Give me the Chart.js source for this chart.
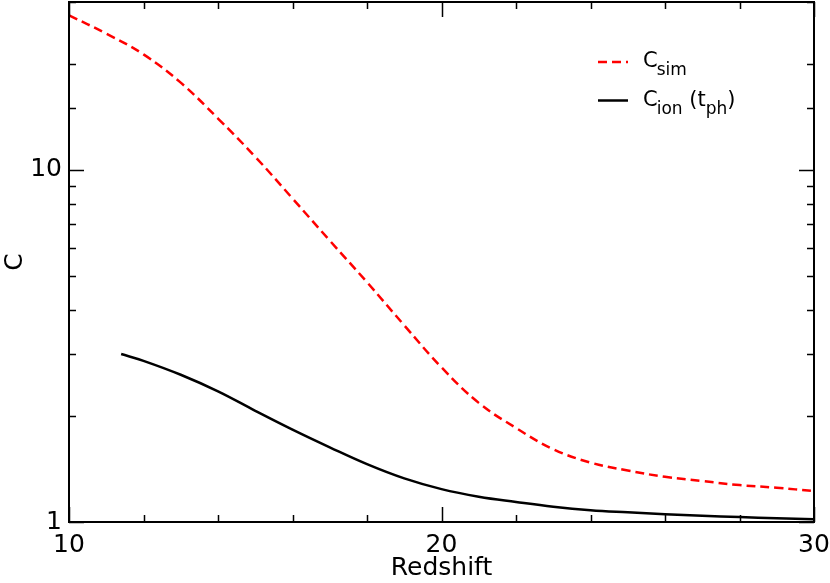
<!DOCTYPE html>
<html>
<head>
<meta charset="utf-8">
<script src="https://cdn.jsdelivr.net/npm/chart.js@4.4.0/dist/chart.umd.min.js"></script>
<style>
  html, body { margin: 0; padding: 0; background: #fff; }
  #wrap { width: 830px; height: 583px; position: relative; }
</style>
</head>
<body>
<div id="wrap"><canvas id="c" width="830" height="583"></canvas></div>
<script>
// ---- data ----
const redshiftSim = [10, 11, 12, 13, 14, 15, 16, 17, 18, 19, 20, 21, 22, 23, 24, 25, 26, 27, 28, 29, 30];
const cSim        = [27.5, 24.4, 21.3, 17.7, 14.0, 10.9, 8.3, 6.3, 4.8, 3.62, 2.75, 2.18, 1.85, 1.61, 1.475, 1.40, 1.344, 1.307, 1.273, 1.251, 1.224];
const redshiftIon = [11.4, 12, 13, 14, 15, 16, 17, 18, 19, 20, 21, 22, 23, 24, 25, 26, 27, 28, 29, 30];
const cIon        = [3.0, 2.87, 2.62, 2.35, 2.07, 1.83, 1.63, 1.46, 1.33, 1.24, 1.18, 1.14, 1.105, 1.08, 1.065, 1.052, 1.042, 1.033, 1.025, 1.018];
const xTickLabels = [10, 20, 30];
const yTickLabels = [1, 10];
// legend text pieces: [text, isSubscript, xShift]
const legendSim = [["C", false, 0], ["sim", true, -1]];
const legendIon = [["C", false, 0], ["ion", true, -1], [" (t", false, 0], ["ph", true, 0], [")", false, 0]];

const FONT = "'DejaVu Sans', sans-serif";

const toPts = (xs, ys) => xs.map((x, i) => ({ x: x, y: ys[i] }));

const frameTicks = {
  id: 'frameTicks',
  afterDatasetsDraw(chart) {
    const ctx = chart.ctx;
    const a = chart.chartArea;
    const xs = chart.scales.x, ys = chart.scales.y;
    ctx.save();
    ctx.strokeStyle = '#000';
    ctx.lineWidth = 2;
    ctx.strokeRect(a.left, a.top, a.right - a.left, a.bottom - a.top);
    ctx.lineWidth = 1.5;
    ctx.beginPath();
    xs.ticks.forEach(t => {
      const px = Math.round(xs.getPixelForValue(t.value)) + 0.5;
      const len = xTickLabels.includes(t.value) ? 15 : 7;
      ctx.moveTo(px, a.bottom); ctx.lineTo(px, a.bottom - len);
      ctx.moveTo(px, a.top); ctx.lineTo(px, a.top + len);
    });
    ys.ticks.forEach(t => {
      const py = Math.round(ys.getPixelForValue(t.value)) + 0.5;
      const len = yTickLabels.includes(t.value) ? 15 : 7;
      ctx.moveTo(a.left, py); ctx.lineTo(a.left + len, py);
      ctx.moveTo(a.right, py); ctx.lineTo(a.right - len, py);
    });
    ctx.stroke();

    const rows = [
      { parts: legendSim, ds: chart.data.datasets[0], y: 62 },
      { parts: legendIon, ds: chart.data.datasets[1], y: 100.5 }
    ];
    rows.forEach(r => {
      ctx.beginPath();
      ctx.strokeStyle = r.ds.borderColor;
      ctx.lineWidth = r.ds.borderWidth;
      ctx.setLineDash(r.ds.borderDash || []);
      ctx.moveTo(598, r.y); ctx.lineTo(628, r.y);
      ctx.stroke();
      ctx.setLineDash([]);
      let x = 643;
      ctx.fillStyle = '#000';
      ctx.textBaseline = 'alphabetic';
      ctx.textAlign = 'left';
      r.parts.forEach(([txt, sub, dx]) => {
        ctx.font = (sub ? '17px ' : '21px ') + FONT;
        const base = r.y + 5 + (sub ? 8 : 0);
        ctx.fillText(txt, x + dx, base);
        x += ctx.measureText(txt).width + dx;
      });
    });
    ctx.restore();
  }
};

new Chart(document.getElementById('c'), {
  type: 'line',
  data: {
    datasets: [
      {
        label: 'C_sim',
        data: toPts(redshiftSim, cSim),
        borderColor: '#ff0000',
        borderWidth: 2.5,
        borderDash: [9, 5],
        pointRadius: 0,
        tension: 0.4,
        fill: false
      },
      {
        label: 'C_ion (t_ph)',
        data: toPts(redshiftIon, cIon),
        borderColor: '#000000',
        borderWidth: 2.5,
        pointRadius: 0,
        tension: 0.4,
        fill: false
      }
    ]
  },
  options: {
    responsive: false,
    animation: false,
    devicePixelRatio: 1,
    layout: { padding: { top: 2, right: 16, left: 0, bottom: 0 } },
    plugins: { legend: { display: false }, tooltip: { enabled: false } },
    scales: {
      x: {
        type: 'linear',
        min: 10, max: 30,
        border: { display: false },
        grid: { display: false, drawTicks: false },
        ticks: {
          stepSize: 2,
          autoSkip: false,
          maxRotation: 0,
          padding: 8,
          color: '#000',
          font: { family: FONT, size: 25 },
          callback: v => xTickLabels.includes(v) ? String(v) : ''
        },
        title: {
          display: true,
          text: 'Redshift',
          color: '#000',
          font: { family: FONT, size: 25 },
          padding: { top: 0, bottom: 0 }
        },
        afterFit: s => { s.height = 61; s.paddingLeft = 0; s.paddingRight = 0; }
      },
      y: {
        type: 'logarithmic',
        min: 1, max: 30,
        border: { display: false },
        grid: { display: false, drawTicks: false },
        ticks: {
          autoSkip: false,
          padding: 7,
          color: '#000',
          font: { family: FONT, size: 25 },
          callback: v => yTickLabels.includes(v) ? String(v) : ''
        },
        title: {
          display: true,
          text: 'C',
          color: '#000',
          font: { family: FONT, size: 25 },
          padding: { top: 0, bottom: 0 }
        },
        afterFit: s => { s.width = 69; s.paddingTop = 0; s.paddingBottom = 0; }
      }
    }
  },
  plugins: [frameTicks]
});
</script>
</body>
</html>
